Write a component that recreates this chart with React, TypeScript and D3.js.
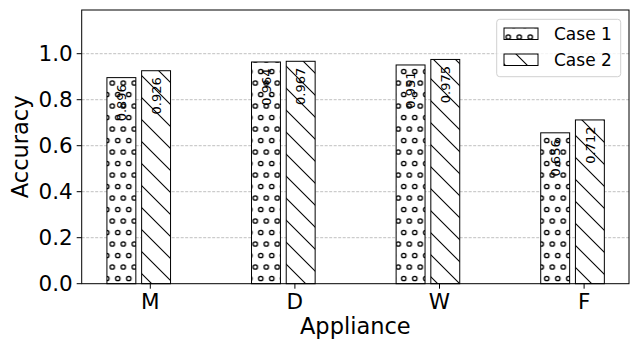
import * as d3 from 'd3';

const categories = ['M', 'D', 'W', 'F'];
const case1 = [0.896, 0.964, 0.951, 0.656];
const case2 = [0.926, 0.967, 0.975, 0.712];
const yTicks = [0, 0.2, 0.4, 0.6, 0.8, 1.0];
const seriesNames = ['Case 1', 'Case 2'];

const W = 630;
const H = 341;
const FONT = '"DejaVu Sans", sans-serif';

const App = () => {
  // plot area
  const left = 81.7, right = 629, top = 10, bottom = 283.7;

  const x = d3.scaleLinear().domain([-0.4744, 3.3105]).range([left, right]);
  const y = d3.scaleLinear().domain([0, 1.19]).range([bottom, top]);

  const barW = x(0.2) - x(0);
  const offsets = [-0.2, 0.04];
  const fills = ['url(#dots)', 'url(#diag)'];
  const series = [case1, case2];

  return (
    <svg width={W} height={H} style={{ position: 'absolute', left: 0, top: 0 }} fontFamily={FONT}>
      <defs>
        <pattern id="dots" patternUnits="userSpaceOnUse" width={11} height={23} x={2.3} y={14}>
          <rect width={11} height={23} fill="white" />
          {[[0, 0], [11, 0], [0, 23], [11, 23], [5.5, 11.5]].map(([cx, cy], i) => (
            <circle key={i} cx={cx} cy={cy} r={2.2} fill="none" stroke="black" strokeWidth={1.3} />
          ))}
        </pattern>
        <pattern id="diag" patternUnits="userSpaceOnUse" width={22} height={22}>
          <rect width={22} height={22} fill="white" />
          <line x1={0} y1={0} x2={22} y2={22} stroke="black" strokeWidth={1.1} />
          <line x1={-2} y1={20} x2={2} y2={24} stroke="black" strokeWidth={1.1} />
          <line x1={20} y1={-2} x2={24} y2={2} stroke="black" strokeWidth={1.1} />
        </pattern>
      </defs>

      <rect x={0} y={0} width={W} height={H} fill="white" />

      {/* grid */}
      {yTicks.slice(1).map(t => (
        <line key={t} x1={left} x2={right} y1={y(t)} y2={y(t)}
          stroke="#b0b0b0" strokeWidth={0.8} strokeDasharray="3,1.5" />
      ))}

      {/* bars */}
      {series.map((vals, s) => vals.map((v, i) => {
        const cx = x(i + offsets[s]);
        return (
          <g key={`${s}-${i}`}>
            <rect x={cx - barW / 2} y={y(v)} width={barW} height={bottom - y(v)}
              fill={fills[s]} stroke="black" strokeWidth={1} />
            <text transform={`translate(${cx + 4.7},${y(v) + 6.5}) rotate(-90)`}
              textAnchor="end" fontSize={13} fill="black">{v.toFixed(3)}</text>
          </g>
        );
      }))}

      {/* axes frame */}
      <rect x={left} y={top} width={right - left} height={bottom - top}
        fill="none" stroke="black" strokeWidth={1} />

      {/* y ticks */}
      {yTicks.map(t => (
        <g key={t}>
          <line x1={left - 5} x2={left} y1={y(t)} y2={y(t)} stroke="black" strokeWidth={1} />
          <text x={left - 9} y={y(t)} dy="0.36em" textAnchor="end" fontSize={21.5}>{t.toFixed(1)}</text>
        </g>
      ))}

      {/* x ticks */}
      {categories.map((c, i) => (
        <g key={c}>
          <line x1={x(i)} x2={x(i)} y1={bottom} y2={bottom + 5} stroke="black" strokeWidth={1} />
          <text x={x(i)} y={bottom + 25} textAnchor="middle" fontSize={21.5}>{c}</text>
        </g>
      ))}

      <text x={(left + right) / 2} y={334} textAnchor="middle" fontSize={22.5}>Appliance</text>
      <text transform={`translate(28,${(top + bottom) / 2}) rotate(-90)`} textAnchor="middle" fontSize={22.5}>Accuracy</text>

      {/* legend */}
      <rect x={496.7} y={19.3} width={124} height={57.4} rx={3} fill="white" fillOpacity={0.8}
        stroke="#d0d0d0" strokeWidth={1} />
      {seriesNames.map((n, s) => (
        <g key={n}>
          <rect x={504} y={28 + s * 26} width={34} height={11.5} fill={fills[s]} stroke="black" strokeWidth={1} />
          <text x={554} y={39.5 + s * 26} fontSize={17}>{n}</text>
        </g>
      ))}
    </svg>
  );
};

export default App;
